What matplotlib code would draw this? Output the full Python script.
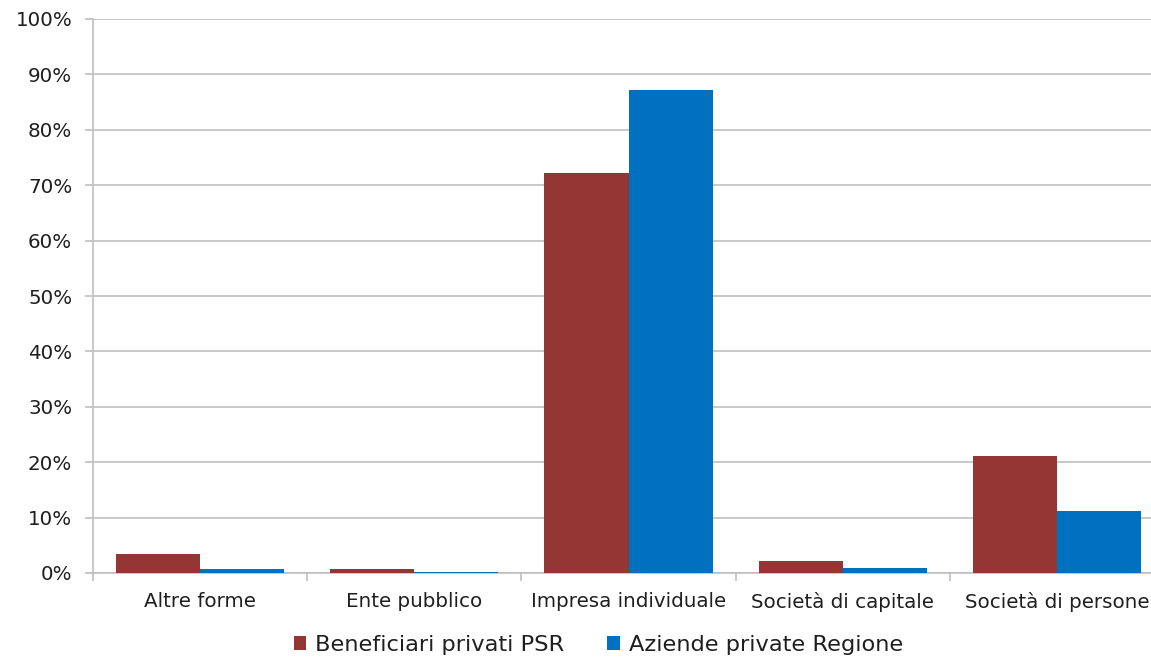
import numpy as np
import matplotlib
matplotlib.use("Agg")
import matplotlib.pyplot as plt
from matplotlib.ticker import FuncFormatter, MultipleLocator

# data
categories = ["Altre forme", "Ente pubblico", "Impresa individuale",
              "Società di capitale", "Società di persone"]
psr = [3.5, 0.8, 72.2, 2.2, 21.1]
regione = [0.7, 0.2, 87.2, 0.9, 11.2]
series_names = ["Beneficiari privati PSR", "Aziende private Regione"]

RED = "#943634"
BLUE = "#0070C0"
GRID = "#bfbfbf"
TXT = "#1f1f1f"

fig = plt.figure(figsize=(11.51, 6.60), dpi=100)
# axis runs past the right edge, as in the (cropped) original
ax = fig.add_axes([93 / 1151, 87 / 660, (1164 - 93) / 1151, (573 - 19) / 660])

x = np.arange(len(categories))
w = 0.393
ax.bar(x - w / 2, psr, w, color=RED, label=series_names[0], zorder=3)
ax.bar(x + w / 2, regione, w, color=BLUE, label=series_names[1], zorder=3)

ax.set_xlim(-0.5, len(categories) - 0.5)
ax.set_ylim(0, 100)
ax.yaxis.set_major_locator(MultipleLocator(10))
ax.yaxis.set_major_formatter(FuncFormatter(lambda v, p: f"{v:.0f}%"))
ax.grid(axis="y", color=GRID, linewidth=1.2, zorder=0)

ax.set_xticks(x)
ax.set_xticklabels(categories)
ax.set_xticks(np.arange(-0.5, len(categories)), minor=True)
ax.tick_params(axis="x", which="major", length=0, pad=14, labelsize=14.3, labelcolor=TXT)
ax.tick_params(axis="x", which="minor", length=6, color=GRID, width=1.2)
ax.tick_params(axis="y", length=6, color=GRID, width=1.2, labelsize=14.3, labelcolor=TXT, pad=9)

for s in ["top", "right"]:
    ax.spines[s].set_visible(False)
ax.spines["left"].set_color(GRID)
ax.spines["left"].set_linewidth(1.2)
ax.spines["bottom"].set_color(GRID)
ax.spines["bottom"].set_linewidth(1.2)

fig.legend(loc="center", bbox_to_anchor=(0.52, 0.023), ncol=2, frameon=False,
           fontsize=16.2, handlelength=0.55, handleheight=0.55, handletextpad=0.4,
           columnspacing=1.9, labelcolor=TXT)

fig.savefig("out.png", dpi=100)
